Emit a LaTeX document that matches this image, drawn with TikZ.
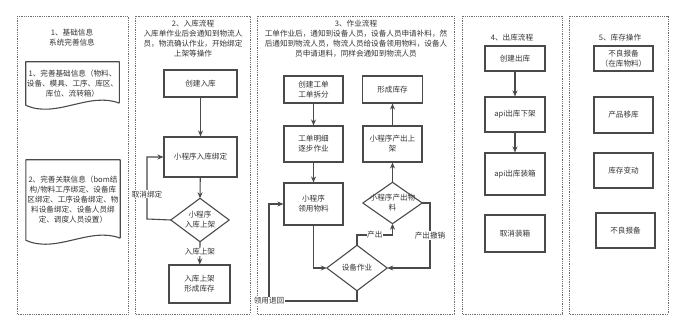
\documentclass[tikz,border=0pt]{standalone}
\usepackage{fontspec}
\setmainfont{Noto Sans CJK SC}
\usetikzlibrary{positioning,arrows.meta}

\definecolor{linegray}{HTML}{4A4A4A}
\definecolor{textgray}{HTML}{333333}
\definecolor{framegray}{HTML}{6E6E6E}

\begin{document}
\begin{tikzpicture}[x=1pt, y=-1pt,
  every node/.style={font=\fontsize{7.6}{10}\selectfont, text=textgray},
  box/.style={draw=linegray, line width=1.1pt, align=center, inner sep=1pt},
  plain/.style={align=center, inner sep=1pt},
  outline/.style={draw=linegray, line width=1.1pt, line join=round},
  panel/.style={draw=framegray, line width=0.8pt, dash pattern=on 0.8pt off 1pt},
  arr/.style={draw=linegray, line width=1.1pt, -{Stealth[length=6pt,width=5pt]}},
  lbl/.style={fill=white, inner sep=0.5pt}]
\useasboundingbox (0,0) rectangle (681,331);

% frames
\draw[panel] (17,16) rectangle (128,314);
\draw[panel] (135,16) rectangle (250,314);
\draw[panel] (257,16) rectangle (454,314);
\draw[panel] (462,16) rectangle (562,314);
\draw[panel] (569,16) rectangle (668,314);

% 1 basic info
\node[align=center] (t1) at (72,38) {1、基础信息\\系统完善信息};
\node[plain, minimum width=93, minimum height=43] (doc1) at (72.5,83.5) {1、完善基础信息（物料、\\设备、模具、工序、库区、\\库位、流转箱）};
\node[plain, minimum width=94, minimum height=80] (doc2) at (73,200) {2、完善关联信息（bom结\\构/物料工序绑定、设备库\\区绑定、工序设备绑定、物\\料设备绑定、设备人员绑\\定、调度人员设置）};
\draw[outline] ([yshift=2pt]doc1.south east) -- (doc1.north east) -- (doc1.north west) -- (doc1.south west) .. controls +(30pt,-14pt) and +(-30pt,12pt) .. ([yshift=2pt]doc1.south east);
\draw[outline] ([yshift=2pt]doc2.south east) -- (doc2.north east) -- (doc2.north west) -- (doc2.south west) .. controls +(30pt,-14pt) and +(-30pt,12pt) .. ([yshift=2pt]doc2.south east);

% 2 inbound
\node[align=center] (t2) at (193,39) {2、入库流程\\入库单作业后会通知到物流人\\员，物流确认作业，开始绑定\\上架等操作};
\node[box, minimum width=73, minimum height=27] (newin) at (200.5,83.5) {创建入库};
\node[box, minimum width=73, minimum height=40] (bind) at (200.5,157) {小程序入库绑定};
\node[plain, minimum width=58, minimum height=43] (shelf) at (200,220) {小程序\\入库上架};
\draw[outline] (shelf.north) -- (shelf.east) -- (shelf.south) -- (shelf.west) -- cycle;
\node[box, minimum width=61, minimum height=38] (stock) at (199.5,284) {入库上架\\形成库存};
\coordinate (unbind) at (147,219);
\draw[arr] (newin) -- (bind);
\draw[arr] (bind) -- (shelf.north);
\draw[arr] (shelf.south) -- node[lbl, pos=0.45] {入库上架} (stock);
\draw[arr] (shelf.west) -- (unbind) |- node[lbl, pos=0.2] {取消绑定} (bind.west);

% 3 work
\node[align=center] (t3) at (356,39) {3、作业流程\\工单作业后，通知到设备人员，设备人员申请补料，然\\后通知到物流人员，物流人员给设备领用物料，设备人\\员申请退料，同样会通知到物流人员};
\node[box, minimum width=59, minimum height=27] (order) at (313.5,89.5) {创建工单\\工单拆分};
\node[box, minimum width=60, minimum height=27] (instock) at (392.5,89.5) {形成库存};
\node[box, minimum width=59, minimum height=36] (detail) at (313.5,144) {工单明细\\逐步作业};
\node[box, minimum width=59, minimum height=36] (putaway) at (392.5,144) {小程序产出上\\架};
\node[box, minimum width=59, minimum height=42] (pick) at (313.5,204) {小程序\\领用物料};
\node[plain, minimum width=59, minimum height=41] (output) at (392.5,203) {小程序产出物\\料};
\draw[outline] (output.north) -- (output.east) -- (output.south) -- (output.west) -- cycle;
\node[plain, minimum width=60, minimum height=45] (device) at (357,268) {设备作业};
\draw[outline] (device.north) -- (device.east) -- (device.south) -- (device.west) -- cycle;
\coordinate (back) at (269,301);
\coordinate (out) at (392.5,235);
\coordinate (undo) at (430,268);
\draw[arr] (order) -- (detail);
\draw[arr] (detail) -- (pick);
\draw[arr] (pick.south) |- (device.west);
\draw[arr] (device.south) |- (back) |- (pick.west);
\node[lbl] at (back) {领用退回};
\draw[arr] (device.north) |- node[lbl, pos=0.75] {产出} (out) -- (output.south);
\draw[arr] (output.east) -| node[lbl, pos=0.75] {产出撤销} (undo) -- (device.east);
\draw[arr] (output.north) -- (putaway);
\draw[arr] (putaway) -- (instock);

% 4 outbound
\node (t4) at (512,38) {4、出库流程};
\node[box, minimum width=60, minimum height=25] (newout) at (515,58.5) {创建出库};
\node[box, minimum width=60, minimum height=35] (unload) at (515,114.5) {api出库下架};
\node[box, minimum width=60, minimum height=42] (pack) at (515,174) {api出库装箱};
\node[box, minimum width=60, minimum height=37] (unpack) at (515,233.5) {取消装箱};
\draw[arr] (newout) -- (unload);
\draw[arr] (unload) -- (pack);

% 5 stock ops
\node (t5) at (620,38) {5、库存操作};
\node[box, minimum width=59, minimum height=25] (badin) at (623.5,58.5) {不良报备\\（在库物料）};
\node[box, minimum width=59, minimum height=36] (move) at (623.5,115) {产品移库};
\node[box, minimum width=59, minimum height=35] (change) at (623.5,170.5) {库存变动};
\node[box, minimum width=59, minimum height=35] (bad) at (625.5,230.5) {不良报备};
\end{tikzpicture}
\end{document}
